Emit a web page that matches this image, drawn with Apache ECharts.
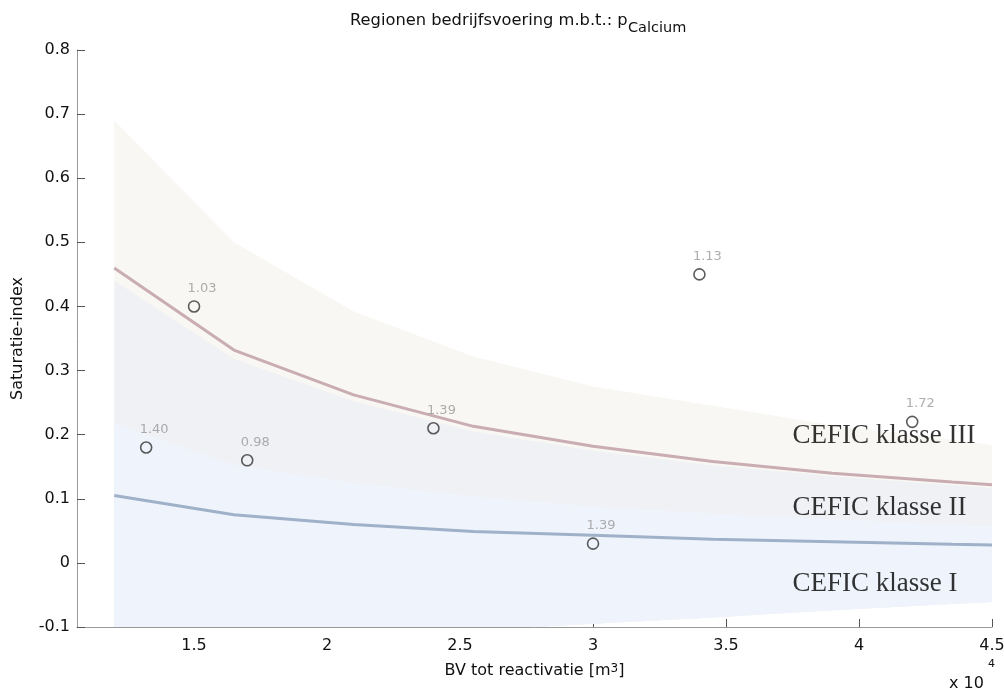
<!DOCTYPE html>
<html>
<head>
<meta charset="utf-8">
<script src="https://cdn.jsdelivr.net/npm/echarts@6/dist/echarts.min.js"></script>
<style>
html,body{margin:0;padding:0;background:#fff;}
#chart{width:1004px;height:694px;}
</style>
</head>
<body>
<div id="chart"></div>
<script>
// x in units of 10^4 m^3
const xNodes   = [1.2, 1.65, 2.1, 2.55, 3.0, 3.45, 3.9, 4.35, 4.5];
const upperIII = [0.69, 0.50, 0.392, 0.322, 0.275, 0.245, 0.215, 0.192, 0.184];
const redLine  = [0.46, 0.332, 0.262, 0.213, 0.182, 0.158, 0.140, 0.126, 0.122];
const grayTop  = [0.44, 0.318, 0.252, 0.205, 0.175, 0.152, 0.135, 0.121, 0.117];
const blueTop  = [0.218, 0.153, 0.125, 0.104, 0.088, 0.077, 0.068, 0.060, 0.057];
const blueLine = [0.105, 0.075, 0.060, 0.049, 0.043, 0.037, 0.033, 0.029, 0.028];
const lowerI   = [-0.135, -0.125, -0.115, -0.105, -0.095, -0.085, -0.074, -0.064, -0.061];

const pointsX      = [1.32, 1.50, 1.70, 2.40, 3.00, 3.40, 4.20];
const pointsY      = [0.18, 0.40, 0.16, 0.21, 0.03, 0.45, 0.22];
const pointLabels  = ['1.40', '1.03', '0.98', '1.39', '1.39', '1.13', '1.72'];

const classNames = ['CEFIC klasse III', 'CEFIC klasse II', 'CEFIC klasse I'];
const classX     = [3.75, 3.75, 3.75];
const classY     = [0.198, 0.086, -0.033];

const xTicks = [1.5, 2, 2.5, 3, 3.5, 4, 4.5];

const titleMain = 'Regionen bedrijfsvoering m.b.t.: p';
const titleSub  = 'Calcium';

const zip = (a, b) => a.map((v, i) => [v, b[i]]);

function band(top, bottom, color) {
  return {
    type: 'custom', silent: true, clip: true, z: 1,
    data: [[xNodes[0], top[0]]],
    renderItem: function (params, api) {
      const pts = [];
      for (let i = 0; i < xNodes.length; i++) pts.push(api.coord([xNodes[i], top[i]]));
      for (let i = xNodes.length - 1; i >= 0; i--) pts.push(api.coord([xNodes[i], bottom[i]]));
      return { type: 'polygon', shape: { points: pts }, style: { fill: color, stroke: null } };
    }
  };
}

const FONT = 'DejaVu Sans';
const chart = echarts.init(document.getElementById('chart'), null, { renderer: 'canvas' });
chart.setOption({
  animation: false,
  backgroundColor: '#fff',
  grid: { left: 77, right: 12, top: 50, bottom: 67, containLabel: false, outerBoundsMode: 'none' },
  xAxis: {
    type: 'value', min: 1.06, max: 4.5,
    name: '{a|BV tot reactivatie [m}{s|3}{a|]}',
    nameLocation: 'middle', nameGap: 36,
    nameTextStyle: {
      rich: {
        a: { fontFamily: FONT, fontSize: 16, color: '#111', lineHeight: 24, verticalAlign: 'top' },
        s: { fontFamily: FONT, fontSize: 12, color: '#111', lineHeight: 8, verticalAlign: 'top' }
      }
    },
    axisLine: { show: true, onZero: false, lineStyle: { color: '#999', width: 1 } },
    axisTick: { show: true, inside: true, length: 8, customValues: xTicks, lineStyle: { color: '#555' } },
    axisLabel: { customValues: xTicks, fontFamily: FONT, fontSize: 16, color: '#111', margin: 11 },
    splitLine: { show: false }
  },
  yAxis: {
    type: 'value', min: -0.1, max: 0.8, interval: 0.1,
    name: 'Saturatie-index', nameLocation: 'middle', nameGap: 51,
    nameTextStyle: { fontFamily: FONT, fontSize: 16, color: '#111' },
    axisLine: { show: true, onZero: false, lineStyle: { color: '#999', width: 1 } },
    axisTick: { show: true, inside: true, length: 8, lineStyle: { color: '#555' } },
    axisLabel: {
      fontFamily: FONT, fontSize: 16, color: '#111', margin: 7,
      formatter: v => String(Math.round(v * 10) / 10)
    },
    splitLine: { show: false }
  },
  graphic: [
    { type: 'text', x: 350, y: 21, style: { text: titleMain, font: '16.3px "DejaVu Sans"', fill: '#111', verticalAlign: 'middle' } },
    { type: 'text', x: 628, y: 28, style: { text: titleSub, font: '14.5px "DejaVu Sans"', fill: '#111', verticalAlign: 'middle' } },
    { type: 'text', left: 949, top: 676, style: { text: 'x 10', font: '16px "DejaVu Sans"', fill: '#111' } },
    { type: 'text', left: 988, top: 659, style: { text: '4', font: '11px "DejaVu Sans"', fill: '#111' } }
  ],
  series: [
    band(upperIII, lowerI, '#f8f7f3'),
    band(grayTop, lowerI, '#f0f1f5'),
    band(blueTop, lowerI, '#eff3fc'),
    {
      type: 'line', data: zip(xNodes, redLine), symbol: 'none', silent: true, z: 3,
      lineStyle: { color: '#c9adb2', width: 3 }
    },
    {
      type: 'line', data: zip(xNodes, blueLine), symbol: 'none', silent: true, z: 3,
      lineStyle: { color: '#9fb1c8', width: 3 }
    },
    {
      type: 'scatter', data: zip(pointsX, pointsY), symbol: 'circle', symbolSize: 11, z: 5,
      itemStyle: { color: 'rgba(0,0,0,0)', borderColor: '#333', borderWidth: 1.6 },
      label: {
        show: true, position: 'top', distance: 5, offset: [8, 0],
        formatter: p => pointLabels[p.dataIndex],
        fontFamily: FONT, fontSize: 13, color: '#999'
      }
    },
    {
      type: 'scatter', data: zip(classX, classY), symbolSize: 0, silent: true, z: 6,
      itemStyle: { color: 'rgba(0,0,0,0)' },
      label: {
        show: true, position: [0, 0], align: 'left', verticalAlign: 'middle',
        formatter: p => classNames[p.dataIndex],
        fontFamily: 'Liberation Serif', fontSize: 27, color: '#000'
      }
    }
  ]
});
</script>
</body>
</html>
